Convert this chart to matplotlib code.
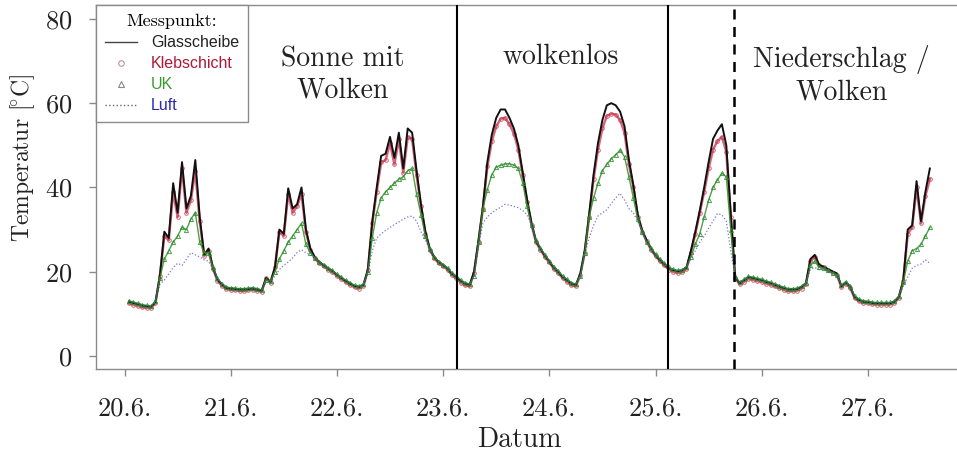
"""Temperaturverlauf Glasscheibe / Klebschicht / UK / Luft, 20.6. - 27.6."""

import matplotlib

matplotlib.use("Agg")
import matplotlib.pyplot as plt  # noqa: E402
import numpy as np  # noqa: E402
from matplotlib.font_manager import FontProperties  # noqa: E402
from matplotlib.lines import Line2D  # noqa: E402

plt.rcParams["mathtext.fontset"] = "cm"
plt.rcParams["axes.formatter.use_mathtext"] = True

SERIF = ["cmr10", "DejaVu Serif"]

# hourly readings, hour 1 .. 182 after 20.6. 00:00
GLASS = [
    12.9, 12.6, 12.3, 12.0, 11.8, 11.7, 12.8, 19.0, 29.5, 28.0, 41.0, 34.0,
    46.0, 35.0, 38.0, 46.5, 33.0, 24.0, 25.5, 21.0, 18.2, 17.0, 16.2,
    16.0, 15.9, 15.8, 15.8, 15.9, 16.0, 15.8, 15.5, 18.5, 17.6, 21.0, 30.0,
    29.0, 39.8, 35.0, 36.0, 40.0, 30.0, 25.5, 23.5, 22.3, 21.6, 20.8, 20.2,
    19.3, 18.6, 17.8, 17.2, 16.6, 16.4, 16.9, 20.5, 32.0, 40.0, 47.5, 48.0,
    52.0, 47.0, 53.0, 44.5, 54.0, 53.0, 44.0, 36.0, 29.5, 25.5, 23.5, 22.3,
    21.6, 20.8, 19.5, 18.8, 17.8, 17.2, 16.9, 20.0, 27.5, 35.5, 46.0, 52.5,
    56.5, 58.5, 58.5, 56.5, 54.0, 50.0, 43.5, 37.0, 31.5, 27.3, 25.5, 23.8,
    22.5, 21.0, 20.0, 18.8, 18.0, 17.2, 16.9, 19.5, 25.0, 33.5, 43.0, 50.5,
    56.0, 59.5, 60.0, 59.5, 58.0, 54.5, 46.5, 40.5, 33.5, 29.8, 27.5, 25.5,
    24.0, 22.8, 21.8, 20.8, 20.4, 20.1, 20.3, 21.0, 25.0, 29.5, 34.5, 40.0,
    46.0, 51.5, 53.5, 55.0, 50.0, 33.9, 18.8, 17.3, 18.0, 18.7, 18.5, 18.2,
    18.0, 17.6, 17.3, 16.9, 16.5, 16.1, 15.8, 15.8, 15.9, 16.4, 17.3, 23.0,
    24.0, 21.6, 21.2, 20.6, 20.1, 19.6, 16.6, 17.5, 16.5, 14.0, 13.3, 12.9,
    12.8, 12.6, 12.5, 12.5, 12.5, 12.5, 12.9, 14.1, 18.0, 30.0, 31.0, 41.5,
    32.0, 39.0, 44.5,
]
KLEB = [
    12.5, 12.2, 11.9, 11.6, 11.4, 11.4, 12.6, 19.0, 28.5, 27.5, 39.0, 33.0,
    44.5, 34.0, 37.0, 44.0, 32.0, 23.8, 25.0, 20.7, 17.9, 16.7, 15.9,
    15.7, 15.6, 15.5, 15.5, 15.6, 15.7, 15.5, 15.3, 18.5, 17.4, 21.0, 29.5,
    28.5, 38.5, 34.0, 35.5, 38.5, 29.5, 25.2, 23.2, 22.0, 21.3, 20.5, 19.9,
    19.0, 18.3, 17.5, 16.9, 16.3, 16.0, 16.6, 20.3, 31.5, 39.0, 46.0, 46.5,
    50.5, 45.5, 51.5, 43.5, 52.0, 51.5, 43.0, 35.5, 29.0, 25.2, 23.2, 22.0,
    21.3, 20.5, 19.2, 18.5, 17.4, 16.8, 16.5, 19.8, 27.0, 35.0, 45.0, 51.0,
    54.5, 56.3, 56.5, 55.0, 52.8, 49.0, 43.0, 36.5, 31.0, 27.0, 25.2, 23.5,
    22.2, 20.7, 19.7, 18.5, 17.6, 16.8, 16.5, 19.2, 24.5, 33.0, 42.0, 49.0,
    54.0, 57.0, 57.5, 57.3, 56.0, 53.0, 45.5, 40.0, 33.0, 29.5, 27.2, 25.2,
    23.7, 22.5, 21.5, 20.5, 20.0, 19.7, 19.9, 20.7, 24.5, 29.0, 34.0, 39.0,
    44.5, 49.0, 51.0, 52.0, 48.5, 33.0, 18.5, 17.0, 17.6, 18.3, 18.1, 17.8,
    17.6, 17.2, 16.9, 16.5, 16.1, 15.7, 15.4, 15.4, 15.5, 16.0, 17.0, 22.5,
    23.5, 21.5, 21.0, 20.3, 19.8, 19.3, 16.3, 17.2, 16.2, 13.7, 13.0, 12.6,
    12.5, 12.3, 12.2, 12.2, 12.2, 12.2, 12.6, 13.8, 17.8, 29.0, 30.5, 40.0,
    31.5, 38.0, 42.0,
]
UK = [
    13.1, 12.8, 12.5, 12.2, 12.0, 11.9, 13.0, 18.5, 23.0, 25.0, 27.0, 28.5,
    30.5, 30.0, 32.5, 34.0, 27.0, 24.5, 24.5, 21.0, 18.4, 17.2, 16.4,
    16.2, 16.1, 16.0, 16.0, 16.1, 16.2, 16.0, 15.7, 18.0, 17.8, 20.0, 23.0,
    25.0, 27.0, 28.5, 30.0, 31.5, 26.5, 24.5, 23.3, 22.3, 21.7, 20.9, 20.3,
    19.4, 18.7, 18.0, 17.4, 16.8, 16.6, 17.0, 20.0, 28.0, 34.0, 37.5, 39.0,
    40.0, 41.0, 42.0, 42.5, 44.0, 44.5, 38.5, 33.5, 28.5, 25.5, 23.6, 22.4,
    21.7, 20.9, 19.7, 19.0, 18.0, 17.4, 17.1, 19.0, 27.0, 35.0, 39.5, 43.0,
    44.8, 45.3, 45.6, 45.6, 45.3, 44.5, 41.0, 35.5, 31.0, 27.5, 25.6, 24.0,
    22.6, 21.2, 20.2, 19.0, 18.2, 17.4, 17.1, 19.0, 24.5, 33.0, 37.5, 41.0,
    44.0, 45.5, 46.8, 47.8, 48.8, 47.3, 42.5, 37.5, 32.5, 29.5, 27.0, 25.6,
    24.1, 23.0, 22.0, 21.0, 20.6, 20.3, 20.5, 21.2, 23.5, 26.5, 29.0, 33.0,
    37.0, 40.0, 41.8, 43.4, 42.5, 30.0, 18.9, 17.5, 18.2, 18.9, 18.7, 18.4,
    18.2, 17.8, 17.5, 17.1, 16.7, 16.3, 16.0, 16.0, 16.1, 16.6, 17.3, 21.5,
    22.5, 21.0, 20.8, 20.3, 19.8, 19.3, 16.8, 17.6, 16.6, 14.2, 13.5, 13.1,
    13.0, 12.8, 12.7, 12.7, 12.7, 12.7, 13.1, 14.2, 17.5, 22.5, 25.0, 25.5,
    26.5, 28.5, 30.5,
]
LUFT = [
    13.0, 12.7, 12.4, 12.1, 11.9, 11.8, 12.9, 17.0, 18.0, 19.5, 21.0, 22.0,
    21.5, 23.0, 24.5, 24.0, 23.5, 22.8, 22.5, 20.5, 18.3, 17.1, 16.3,
    16.1, 16.0, 15.9, 15.9, 16.0, 16.1, 15.9, 15.6, 17.5, 17.5, 19.0, 20.5,
    21.5, 22.3, 23.3, 24.5, 25.2, 24.5, 24.0, 23.0, 22.2, 21.6, 20.8, 20.2,
    19.3, 18.6, 17.9, 17.3, 16.7, 16.5, 16.9, 19.5, 25.0, 28.0, 29.0, 29.8,
    30.5, 31.2, 31.8, 32.5, 33.0, 33.2, 32.0, 29.5, 27.5, 25.2, 23.5, 22.4,
    21.6, 20.8, 19.6, 18.9, 17.9, 17.3, 17.0, 19.0, 26.0, 31.5, 33.0, 34.0,
    34.7, 35.3, 36.0, 35.8, 35.5, 35.2, 34.5, 33.5, 31.0, 27.5, 25.5, 23.9,
    22.5, 21.1, 20.1, 18.9, 18.1, 17.3, 17.0, 19.0, 24.0, 28.0, 31.0, 33.2,
    34.0, 34.7, 36.2, 37.5, 38.6, 37.0, 35.0, 33.9, 32.0, 29.5, 27.0, 25.5,
    24.0, 22.9, 21.9, 20.9, 20.5, 20.2, 20.4, 21.1, 23.0, 25.0, 27.0, 28.5,
    30.3, 32.0, 33.8, 33.5, 32.0, 25.0, 18.8, 17.4, 18.1, 18.8, 18.6, 18.3,
    18.1, 17.7, 17.4, 17.0, 16.6, 16.2, 15.9, 15.9, 16.0, 16.5, 17.2, 20.5,
    21.0, 20.5, 20.5, 20.0, 19.6, 19.2, 16.7, 17.5, 16.5, 14.1, 13.4, 13.0,
    12.9, 12.7, 12.6, 12.6, 12.6, 12.6, 13.0, 14.1, 16.5, 18.8, 20.8, 21.5,
    21.8, 22.8, 22.0,
]
HOURS = np.arange(1, len(GLASS) + 1)

DAY_LABELS = ["20.6.", "21.6.", "22.6.", "23.6.", "24.6.", "25.6.", "26.6.", "27.6."]
Y_TICKS = [0, 20, 40, 60, 80]

# weather phase borders (hours after 20.6. 00:00)
PHASE_SOLID = [75.1, 122.8]
PHASE_DASHED = [137.8]
PHASE_TEXT = [(49.4, 66.7, "Sonne mit\nWolken"), (98.6, 71.0, "wolkenlos"),
              (162.1, 66.7, "Niederschlag /\nWolken")]

C_GLASS = "#111111"
C_KLEB = "#c4243f"
C_UK = "#2f8f2a"
C_LUFT = "#3b3bc4"
FRAME = "#8a8a8a"


def main():
    fig = plt.figure(figsize=(9.57, 4.59), dpi=100)
    ax = fig.add_axes([96 / 957, 90 / 459, 864 / 957, 364 / 459])

    ax.plot(HOURS, KLEB, color=C_KLEB, lw=1.8, marker="o", ms=2.6, mfc="none",
            mec=C_KLEB, mew=0.7, alpha=0.7, zorder=2)
    ax.plot(HOURS, GLASS, color=C_GLASS, lw=1.4, zorder=3)
    ax.plot(HOURS, UK, color=C_UK, lw=1.0, marker="^", ms=3.0, mfc="none",
            mec=C_UK, mew=0.7, alpha=0.85, zorder=4)
    ax.plot(HOURS, LUFT, color=C_LUFT, lw=0.9, ls=":", alpha=0.7, zorder=5)

    for xv in PHASE_SOLID:
        ax.axvline(xv, color="black", lw=1.5, zorder=6)
    for xv in PHASE_DASHED:
        ax.axvline(xv, color="black", lw=1.8, ls=(0, (4, 3)), zorder=6)

    for xv, yv, txt in PHASE_TEXT:
        ax.text(xv, yv, txt, ha="center", va="center", fontsize=20,
                family=SERIF, linespacing=1.25, color="#222222")

    x0 = -28.5 / 106.2 * 24
    ax.set_xlim(x0, x0 + 864 / 106.2 * 24)
    ax.set_ylim(-3.09, 83.3)
    ax.set_xticks(np.arange(len(DAY_LABELS)) * 24)
    ax.set_xticklabels(DAY_LABELS)
    ax.set_yticks(Y_TICKS)
    ax.tick_params(axis="both", colors=FRAME, length=5, width=1, labelsize=19,
                   labelcolor="#222222")
    ax.tick_params(axis="x", pad=15)
    ax.tick_params(axis="y", pad=12)
    for lab in ax.get_xticklabels() + ax.get_yticklabels():
        lab.set_family(SERIF)
    for sp in ax.spines.values():
        sp.set_color(FRAME)
        sp.set_linewidth(1.0)

    ax.set_xlabel("Datum", fontsize=20, family=SERIF, color="#222222", va="center")
    ax.xaxis.set_label_coords(0.49, -0.195)
    ax.set_ylabel(r"Temperatur [$\!^{\circ}$C]", fontsize=17, family=SERIF,
                  color="#222222", va="center")
    ax.yaxis.set_label_coords(-0.085, 0.58)

    handles = [
        Line2D([], [], color="#444444", lw=1.0),
        Line2D([], [], ls="none", marker="o", ms=4, mfc="none", mec="#c090a0", mew=0.8),
        Line2D([], [], ls="none", marker="^", ms=5, mfc="none", mec="#888888", mew=0.8),
        Line2D([], [], color="#666666", lw=1.0, ls=":"),
    ]
    leg = ax.legend(handles, ["Glasscheibe", "Klebschicht", "UK", "Luft"],
                    loc="upper left", bbox_to_anchor=(0.0, 1.0), borderaxespad=0.0,
                    title="Messpunkt:",
                    title_fontproperties=FontProperties(family=SERIF, size=13),
                    prop=FontProperties(family="Liberation Sans", size=11.5),
                    labelcolor=["#222222", "#b01838", "#3a9a30", "#2a2ab0"],
                    frameon=True, fancybox=False, edgecolor=FRAME, framealpha=1.0,
                    handlelength=2.0, handletextpad=0.9, labelspacing=0.38,
                    borderpad=0.55)
    leg.get_frame().set_linewidth(1.0)
    leg.set_zorder(10)

    fig.savefig("out.png", dpi=100, facecolor="white")


if __name__ == "__main__":
    main()
